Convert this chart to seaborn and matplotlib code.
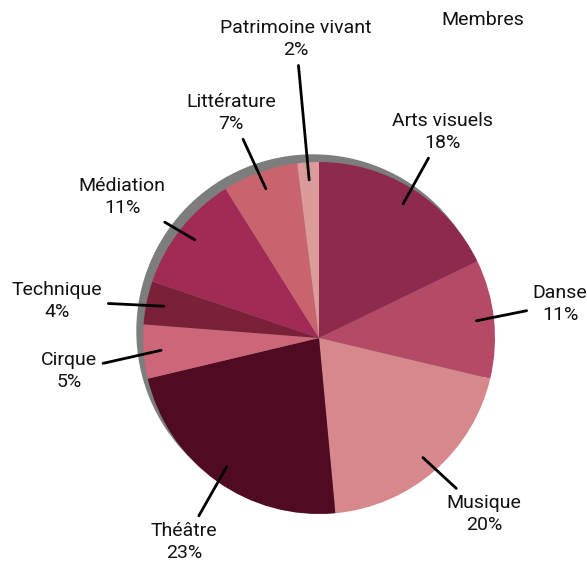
import matplotlib.pyplot as plt
import seaborn as sns

# Data
categories = ["Arts visuels", "Danse", "Musique", "Théâtre", "Cirque",
              "Technique", "Médiation", "Littérature", "Patrimoine vivant"]
shares = [18, 11, 20, 23, 5, 4, 11, 7, 2]
colors = ["#8F2A4F", "#B54A66", "#D6888C", "#500B23", "#CC6678",
          "#7A2038", "#A22A57", "#C9646F", "#DC9A9B"]

# label centres in pixel space (layout only)
label_pos = {
    "Arts visuels": (443, 132),
    "Danse": (560, 304),
    "Musique": (484, 514),
    "Théâtre": (184, 542),
    "Cirque": (69, 371),
    "Technique": (57, 301),
    "Médiation": (122, 197),
    "Littérature": (231, 113),
    "Patrimoine vivant": (296, 39),
}

sns.set_theme(style="white")
plt.rcParams['font.family'] = ['Roboto', 'DejaVu Sans']

W, H = 587, 563
fig = plt.figure(figsize=(W / 100, H / 100), dpi=100)
ax = fig.add_axes([0, 0, 1, 1])

cx, cy, r = 319, 338, 176

# shadow behind the pie
shadow = plt.Circle((cx - 6, cy - 7), r, color="#7d7d7d", zorder=0)
ax.add_patch(shadow)

# y axis points down, so counterclockwise in data is clockwise on screen
wedges, _ = ax.pie(shares, colors=colors, startangle=270, counterclock=True,
                   center=(cx, cy), radius=r, frame=True,
                   wedgeprops=dict(linewidth=0))

import numpy as np
for w, name, val in zip(wedges, categories, shares):
    mid = np.deg2rad((w.theta1 + w.theta2) / 2)
    px = cx + 0.9 * r * np.cos(mid)
    py = cy + 0.9 * r * np.sin(mid)
    ax.annotate(f"{name}\n{val}%", xy=(px, py), xytext=label_pos[name],
                ha="center", va="center", fontsize=14, color="#111111",
                linespacing=1.35,
                arrowprops=dict(arrowstyle="-", color="black", lw=2,
                                shrinkA=2, shrinkB=0))

ax.text(483, 20, "Membres", ha="center", va="center", fontsize=14,
        color="#111111")

ax.set_xlim(0, W)
ax.set_ylim(H, 0)
ax.set_aspect("auto")
ax.axis("off")

fig.savefig("out.png", dpi=100)
